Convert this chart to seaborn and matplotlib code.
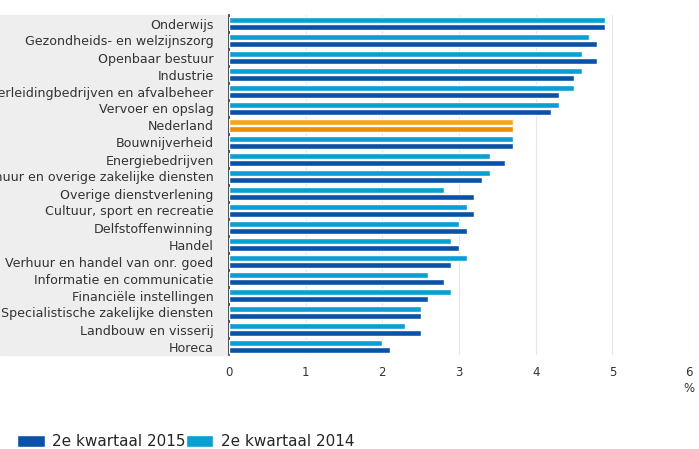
import numpy as np
import pandas as pd
import matplotlib
matplotlib.use("Agg")
import matplotlib.pyplot as plt
from matplotlib.patches import Rectangle, Patch
import seaborn as sns

# Data
sectors = [
    "Onderwijs", "Gezondheids- en welzijnszorg", "Openbaar bestuur", "Industrie",
    "Waterleidingbedrijven en afvalbeheer", "Vervoer en opslag", "Nederland",
    "Bouwnijverheid", "Energiebedrijven", "Verhuur en overige zakelijke diensten",
    "Overige dienstverlening", "Cultuur, sport en recreatie", "Delfstoffenwinning",
    "Handel", "Verhuur en handel van onr. goed", "Informatie en communicatie",
    "Financiële instellingen", "Specialistische zakelijke diensten",
    "Landbouw en visserij", "Horeca",
]
q2_2015 = [4.9, 4.8, 4.8, 4.5, 4.3, 4.2, 3.7, 3.7, 3.6, 3.3,
           3.2, 3.2, 3.1, 3.0, 2.9, 2.8, 2.6, 2.5, 2.5, 2.1]
q2_2014 = [4.9, 4.7, 4.6, 4.6, 4.5, 4.3, 3.7, 3.7, 3.4, 3.4,
           2.8, 3.1, 3.0, 2.9, 3.1, 2.6, 2.9, 2.5, 2.3, 2.0]
series = ["2e kwartaal 2014", "2e kwartaal 2015"]
legend_order = ["2e kwartaal 2015", "2e kwartaal 2014"]

df = pd.DataFrame({
    "sector": sectors * 2,
    "waarde": q2_2014 + q2_2015,
    "periode": [series[0]] * len(sectors) + [series[1]] * len(sectors),
})

light = "#0a9fd2"
dark = "#0a51a9"
orange_light = "#f6a31e"
orange_dark = "#f08c00"

sns.set_style("white")
plt.rcParams["font.family"] = ["DejaVu Sans"]

fig = plt.figure(figsize=(6.99, 4.49), dpi=100)
ax = fig.add_axes([229 / 699, 1 - 355 / 449, 460 / 699, 340 / 449])

# grey band behind the category labels
fig.patches.append(Rectangle((0, 1 - 355 / 449), 229 / 699, 340 / 449,
                             transform=fig.transFigure, color="#eeeeee", zorder=-5))

sns.barplot(data=df, y="sector", x="waarde", hue="periode", hue_order=series,
            order=sectors, palette=[light, dark], saturation=1, orient="h",
            width=0.84, gap=0.04, ax=ax, legend=False, zorder=3)

# Nederland in orange
nl = sectors.index("Nederland")
for i, cont in enumerate(ax.containers):
    cont[nl].set_facecolor([orange_light, orange_dark][i])

ax.set_xlim(0, 6)
ax.set_ylim(len(sectors) - 0.5, -0.5)
ax.set_xticks(range(7))
ax.xaxis.grid(True, color="#e6e6e6", linewidth=0.8, zorder=0)
ax.set_axisbelow(True)
ax.set_xlabel("")
ax.set_ylabel("")
for s in ["top", "right", "bottom"]:
    ax.spines[s].set_visible(False)
ax.spines["left"].set_color("#333333")
ax.spines["left"].set_linewidth(1.2)
ax.tick_params(axis="x", length=0, labelsize=8.5, colors="#333333", pad=8)
ax.tick_params(axis="y", length=0, labelsize=9.1, colors="#333333", pad=11)
ax.set_yticks(np.arange(len(sectors) + 1) - 0.5, minor=True)
ax.tick_params(axis="y", which="minor", length=10, color="#c8bca8", width=0.8)
ax.patch.set_alpha(0)

fig.text(689 / 699, 1 - 389 / 449, "%", ha="center", va="center",
         fontsize=8.5, color="#333333")

handles = [Patch(facecolor=dark), Patch(facecolor=light)]
fig.legend(handles, legend_order, loc="lower left", bbox_to_anchor=(0.005, -0.031),
           ncol=2, frameon=False, fontsize=11, handlelength=1.8, handleheight=0.8,
           handletextpad=0.5, columnspacing=0.0)

fig.savefig("out.png", dpi=100)
